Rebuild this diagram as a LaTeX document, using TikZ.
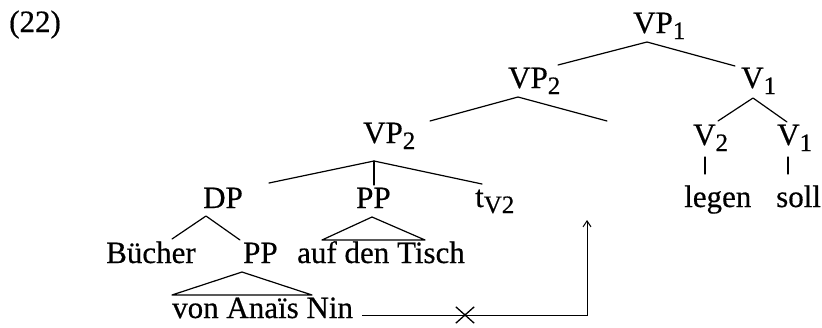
\documentclass[tikz,border=0pt]{standalone}
\usepackage{fontspec}
\setmainfont{Liberation Serif}[FakeBold=0.5]
\usetikzlibrary{arrows.meta,shapes.misc}
\newcommand{\sbs}[1]{\raisebox{-6pt}{\fontsize{25}{25}\selectfont #1}}
\begin{document}
\begin{tikzpicture}[x=1pt,y=-1pt,
  lbl/.style={inner sep=0pt, anchor=base west, font=\fontsize{31}{36}\selectfont},
  br/.style={line width=1.2pt, line cap=round, line join=round},
  mv/.style={line width=1pt}]
\useasboundingbox (0,0) rectangle (822,327);
% labels
\node[lbl] (ex) at (9,32) {(22)};
\node[lbl] (vp1) at (633,33) {VP\sbs{1}};
\node[lbl] (vp2a) at (508,88) {VP\sbs{2}};
\node[lbl] (v1a) at (741,88) {V\sbs{1}};
\node[lbl] (vp2b) at (363,143) {VP\sbs{2}};
\node[lbl] (v2) at (693,145) {V\sbs{2}};
\node[lbl] (v1b) at (777,145) {V\sbs{1}};
\node[lbl] (dp) at (203,208) {DP};
\node[lbl] (pp1) at (356,208) {PP};
\node[lbl] (t) at (475,207) {t\sbs{V2}};
\node[lbl] (legen) at (684,207) {legen};
\node[lbl] (soll) at (776,207) {soll};
\node[lbl] (buecher) at (106,263) {Bücher};
\node[lbl] (pp2) at (243,263) {PP};
\node[lbl] (adt) at (297,263) {auf den Tisch};
\node[lbl] (van) at (172,318) {von Anaïs Nin};
% branch points
\coordinate (a1) at (647,42);
\coordinate (a1l) at (558,65);
\coordinate (a1r) at (735,66);
\coordinate (a2) at (518,97);
\coordinate (a2l) at (430,121);
\coordinate (a2r) at (607,121);
\coordinate (a3) at (753,98);
\coordinate (a3l) at (718,121);
\coordinate (a3r) at (787,122);
\coordinate (t1a) at (705,157);
\coordinate (t1b) at (705,174);
\coordinate (t2a) at (788,157);
\coordinate (t2b) at (788,174);
\coordinate (a4) at (374,161);
\coordinate (a4l) at (269,183);
\coordinate (a4m) at (374,185);
\coordinate (a4r) at (482,184);
\coordinate (a5) at (206,216);
\coordinate (a5l) at (172,239);
\coordinate (a5r) at (240,240);
\coordinate (p1) at (372,217);
\coordinate (p1l) at (322,240);
\coordinate (p1r) at (425,240);
\coordinate (p2) at (242,272);
\coordinate (p2l) at (172,295);
\coordinate (p2r) at (312,295);
\coordinate (ms) at (362,315);
\coordinate (mc) at (587,315);
\coordinate (me) at (587,220);
% tree lines
\draw[br] (a1l) -- (a1) -- (a1r);
\draw[br] (a2l) -- (a2) -- (a2r);
\draw[br] (a3l) -- (a3) -- (a3r);
\draw[br] (t1a) -- (t1b);
\draw[br] (t2a) -- (t2b);
\draw[br] (a4l) -- (a4) -- (a4r);
\draw[br] (a4) -- (a4m);
\draw[br] (a5l) -- (a5) -- (a5r);
\draw[br] (p1) -- (p1l) -- (p1r) -- cycle;
\draw[br] (p2) -- (p2l) -- (p2r) -- cycle;
% movement arrow
\draw[mv,-{Straight Barb[length=6pt,width=8pt]}] (ms) -- (mc) -- (me);
\node[draw, cross out, line width=1.3pt, inner sep=0pt, minimum width=17pt, minimum height=15pt] (x) at (465,315) {};
\end{tikzpicture}
\end{document}
